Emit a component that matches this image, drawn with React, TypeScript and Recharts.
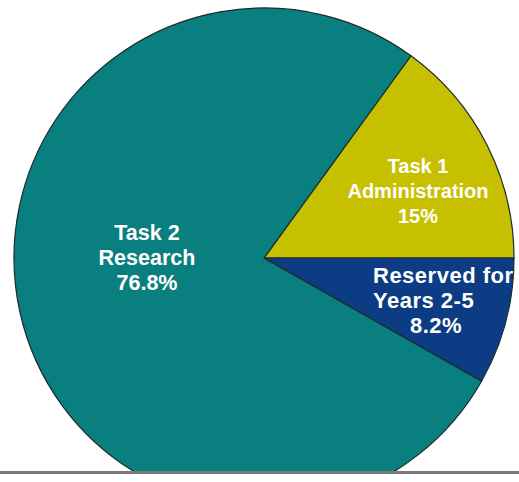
import React from "react";
import { PieChart, Pie, Cell } from "recharts";

const categories = ["Task 1 Administration", "Reserved for Years 2-5", "Task 2 Research"];
const shares = [15, 8.2, 76.8];
const labelLines = [
  ["Task 1", "Administration", "15%"],
  ["Reserved for", "Years 2-5", "8.2%"],
  ["Task 2", "Research", "76.8%"],
];
const colors = ["#c6c000", "#0c3c84", "#0a7f80"];

const data = categories.map((name, i) => ({ name, value: shares[i] }));

// label placement relative to the pie centre (dx, dy of first baseline), per slice
const labelPos = [
  { dx: 154, dy: -85, anchor: "middle", size: 20, spacing: 0 },
  { dx: 109, dy: 25, anchor: "start", size: 22, spacing: 0.5 },
  { dx: -117, dy: -18, anchor: "middle", size: 21.5, spacing: 0 },
];

const renderLabel = (props: any) => {
  const { cx, cy, index } = props;
  const p = labelPos[index];
  const lines = labelLines[index];
  return (
    <g>
      {lines.map((t, j) => {
        let x = cx + p.dx;
        let anchor = p.anchor;
        if (index === 1 && j === 2) {
          x = cx + 172;
          anchor = "middle";
        }
        return (
          <text
            key={j}
            x={x}
            y={cy + p.dy + j * 25}
            fill="#ffffff"
            textAnchor={anchor as any}
            fontFamily="'Liberation Sans', Arial, sans-serif"
            fontWeight="bold"
            fontSize={p.size}
            letterSpacing={p.spacing}
          >
            {t}
          </text>
        );
      })}
    </g>
  );
};

export default function App() {
  return (
    <div
      style={{
        position: "absolute",
        left: 0,
        top: 0,
        width: 519,
        height: 482,
        background: "#fff",
      }}
    >
      <div
        style={{
          width: 519,
          height: 471,
          overflow: "hidden",
          borderBottom: "3px solid #7a7a7a",
        }}
      >
        <PieChart width={519} height={520} margin={{ top: 0, right: 0, bottom: 0, left: 0 }}>
          <Pie
            data={data}
            dataKey="value"
            cx={264}
            cy={258}
            outerRadius={250}
            startAngle={54}
            endAngle={-306}
            stroke="#1c2b2b"
            strokeWidth={1.2}
            label={renderLabel}
            labelLine={false}
            isAnimationActive={false}
          >
            {data.map((d, i) => (
              <Cell key={d.name} fill={colors[i]} />
            ))}
          </Pie>
        </PieChart>
      </div>
    </div>
  );
}
